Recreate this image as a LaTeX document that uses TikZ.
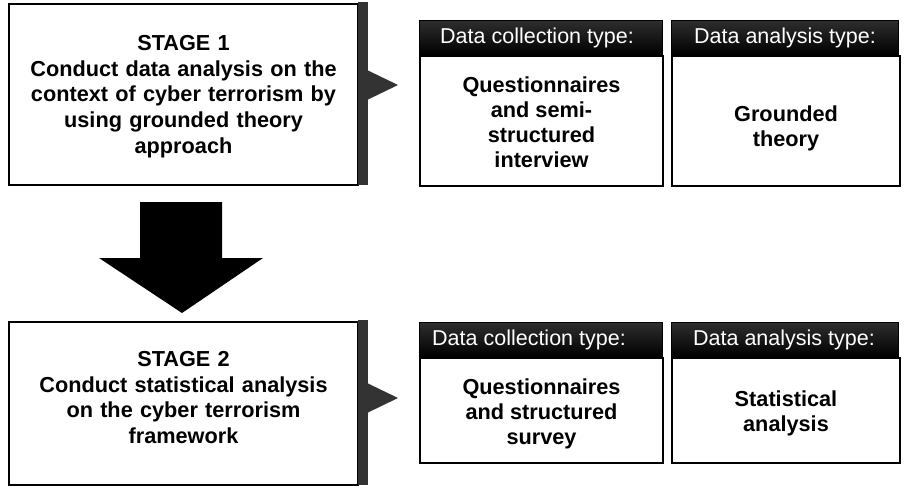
\documentclass[tikz,border=0pt]{standalone}
\usepackage{fontspec}
\setmainfont{Liberation Sans}
\definecolor{strip}{HTML}{333333}
\definecolor{headtop}{HTML}{2E2E2E}
\begin{document}
\begin{tikzpicture}[x=1pt,y=-1pt,
  stagebox/.style={draw=black,line width=2pt,fill=white,inner sep=0pt},
  stagetext/.style={inner sep=0pt,align=center,
    font=\fontsize{21.7}{25.8}\selectfont\bfseries,text width=330pt},
  headbox/.style={inner sep=0pt,top color=headtop,bottom color=black,draw=black,line width=0.5pt,
    anchor=north west},
  headtext/.style={text=white,font=\fontsize{21.5}{25}\selectfont,inner sep=0pt},
  bodybox/.style={draw=black,line width=2pt,fill=white,inner sep=0pt,anchor=north west},
  bodytext/.style={inner sep=0pt,align=center,font=\fontsize{21.7}{25}\selectfont\bfseries},
]
\useasboundingbox (0,0) rectangle (906,490);
\fill[white] (0,0) rectangle (906,490);

% Stage 1
\node[stagebox,minimum width=349pt,minimum height=181pt] (s1) at (183.5,94.5) {};
\node[stagetext] (s1t) at ([yshift=-2pt]s1.center)
  {STAGE 1\\Conduct data analysis on the\\context of cyber terrorism by\\using grounded theory\\approach};
\fill[strip] (s1.north east) ++(-1,-1) rectangle ([xshift=9pt,yshift=1pt]s1.south east);
\coordinate (t1a) at (367,70);
\coordinate (t1b) at (398,85);
\coordinate (t1c) at (367,100);
\fill[strip] (t1a) -- (t1b) -- (t1c) -- cycle;

% Stage 2
\node[stagebox,minimum width=349pt,minimum height=163pt] (s2) at (183.5,403.5) {};
\node[stagetext] (s2t) at ([yshift=6pt]s2.center)
  {STAGE 2\\Conduct statistical analysis\\on the cyber terrorism\\framework};
\fill[strip] (s2.north east) ++(-1,-1) rectangle ([xshift=9pt,yshift=1pt]s2.south east);
\coordinate (t2a) at (367,383);
\coordinate (t2b) at (398,398);
\coordinate (t2c) at (367,413);
\fill[strip] (t2a) -- (t2b) -- (t2c) -- cycle;

% Big down arrow
\coordinate (a1) at (140,202);
\coordinate (a2) at (222,202);
\coordinate (a3) at (222,258);
\coordinate (a4) at (263,258);
\coordinate (a5) at (182,313);
\coordinate (a6) at (99,258);
\coordinate (a7) at (140,258);
\fill[black] (a1) -- (a2) -- (a3) -- (a4) -- (a5) -- (a6) -- (a7) -- cycle;

% Top panels
\node[headbox,minimum width=243pt,minimum height=35pt] (h1) at (419,20) {};
\node[headtext] (h1t) at (537,38) {Data collection type:};
\node[bodybox,minimum width=243pt,minimum height=130pt] (b1) at (419,55) {};
\node[bodytext] (b1t) at ([yshift=-1.5pt]b1.center)
  {Questionnaires\\and semi-\\structured\\interview};
\node[headbox,minimum width=227pt,minimum height=35pt] (h2) at (671,20) {};
\node[headtext] (h2t) at (785,38) {Data analysis type:};
\node[bodybox,minimum width=228pt,minimum height=130pt] (b2) at (671,55) {};
\node[bodytext] (b2t) at ([yshift=-7pt]b2.center) {Grounded\\theory};

% Bottom panels
\node[headbox,minimum width=243pt,minimum height=35pt] (h3) at (419,322) {};
\node[headtext] (h3t) at (529,340) {Data collection type:};
\node[bodybox,minimum width=243pt,minimum height=105pt] (b3) at (419,357) {};
\node[bodytext] (b3t) at ([yshift=-3pt]b3.center)
  {Questionnaires\\and structured\\survey};
\node[headbox,minimum width=227pt,minimum height=35pt] (h4) at (671,322) {};
\node[headtext] (h4t) at (784,340) {Data analysis type:};
\node[bodybox,minimum width=228pt,minimum height=105pt] (b4) at (671,357) {};
\node[bodytext] (b4t) at ([yshift=-3pt]b4.center) {Statistical\\analysis};
\end{tikzpicture}
\end{document}
